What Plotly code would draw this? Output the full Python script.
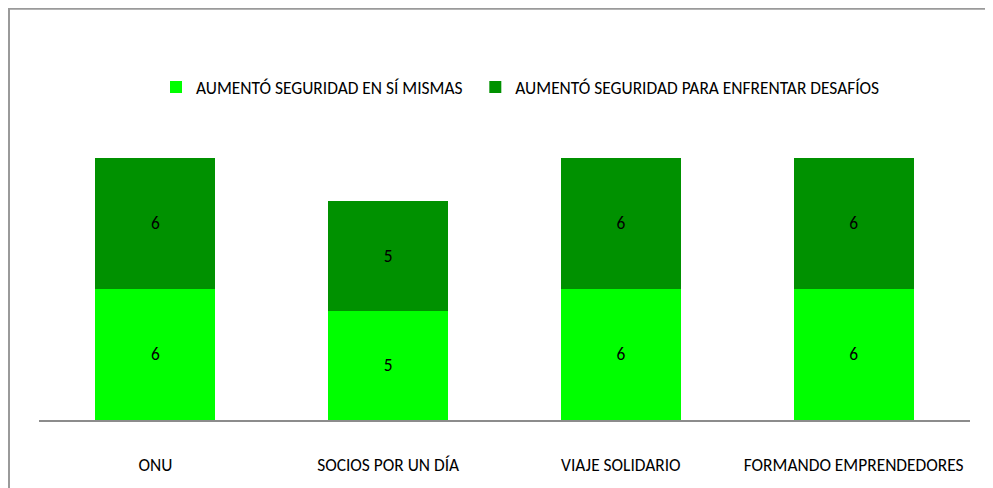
import plotly.graph_objects as go

categories = ["ONU", "SOCIOS POR UN DÍA", "VIAJE SOLIDARIO", "FORMANDO EMPRENDEDORES"]
series_names = ["AUMENTÓ SEGURIDAD EN SÍ MISMAS\u00a0\u00a0", "AUMENTÓ SEGURIDAD PARA ENFRENTAR DESAFÍOS"]
seguridad_si_mismas = [6, 5, 6, 6]
seguridad_desafios = [6, 5, 6, 6]
colors = ["#00FF00", "#009100"]

FONT = "Calibri, Carlito, sans-serif"
FS = 17.4

fig = go.Figure()
for name, vals, col in zip(series_names, [seguridad_si_mismas, seguridad_desafios], colors):
    fig.add_trace(go.Bar(
        x=categories, y=vals, name=name,
        marker=dict(color=col, line=dict(width=0)),
        text=vals, textposition="inside", insidetextanchor="middle",
        textfont=dict(family=FONT, size=FS, color="black"),
        textangle=0,
    ))

W, H = 985, 480
ml, mr, mt, mb = 31, 23, 106, 66
pw = W - ml - mr
ph = H - mt - mb

def px_x(p):
    return (p - ml) / pw

def px_y(p):
    return (H - mb - p) / ph

fig.update_layout(
    width=W, height=H,
    barmode="stack", bargap=0.485,
    margin=dict(l=ml, r=mr, t=mt, b=mb),
    paper_bgcolor="white", plot_bgcolor="white",
    font=dict(family=FONT, size=FS, color="black"),
    showlegend=True,
    legend=dict(orientation="h", x=px_x(148), xanchor="left", y=px_y(79), yanchor="middle",
                font=dict(family=FONT, size=FS, color="black"),
                traceorder="normal", itemwidth=30,
                bgcolor="rgba(0,0,0,0)"),
    xaxis=dict(showline=True, linecolor="#8c8c8c", linewidth=2, ticks="",
               showgrid=False, zeroline=False, ticklabelstandoff=28,
               tickfont=dict(family=FONT, size=FS, color="black")),
    yaxis=dict(visible=False, range=[0, 14], showgrid=False, zeroline=False),
    shapes=[dict(type="rect", xref="paper", yref="paper",
                 x0=px_x(1), x1=px_x(1010), y0=px_y(0), y1=px_y(500),
                 line=dict(color="#9a9a9a", width=2), fillcolor="rgba(0,0,0,0)",
                 layer="below")],
)

fig.write_html("out.html")
